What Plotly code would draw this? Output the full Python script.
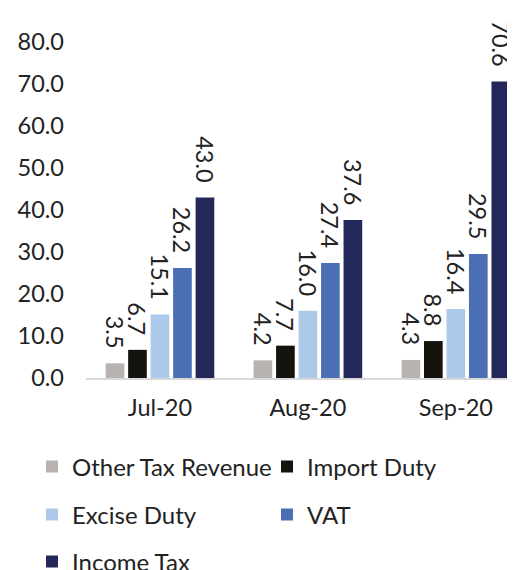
import plotly.graph_objects as go

months = ["Jul-20", "Aug-20", "Sep-20"]
series_names = ["Other Tax Revenue", "Import Duty", "Excise Duty", "VAT", "Income Tax"]
other_tax = [3.5, 4.2, 4.3]
import_duty = [6.7, 7.7, 8.8]
excise_duty = [15.1, 16.0, 16.4]
vat = [26.2, 27.4, 29.5]
income_tax = [43.0, 37.6, 70.6]
y_ticks = [0, 10, 20, 30, 40, 50, 60, 70, 80]

colors = ["#b8b3b1", "#14130e", "#adc9e9", "#4a6fb5", "#23275a"]
legends = ["legend", "legend", "legend2", "legend2", "legend3"]
values = [other_tax, import_duty, excise_duty, vat, income_tax]

FONT = "Lato"
fig = go.Figure()
for name, vals, col, lg in zip(series_names, values, colors, legends):
    fig.add_trace(go.Bar(
        x=months, y=vals, name=name, marker_color=col, marker_line_width=0,
        text=[f"{v:.1f}\u2002" for v in vals], textposition="outside", textangle=90,
        textfont=dict(family=FONT, size=23.5, color="#222222"),
        cliponaxis=False, constraintext="none", legend=lg,
    ))

# page body has an 8px margin, so figure is 8px smaller than the viewport
W, H = 507, 562
ML, MT, MB = 78, 34, 192
PH = H - MT - MB
PW = W - ML

def py(fig_y):
    return ((H - MB) - fig_y) / PH

leg_common = dict(orientation="h", xref="paper", yref="paper",
                  xanchor="left", yanchor="middle", entrywidth=190,
                  font=dict(family=FONT, size=24, color="#222222"),
                  bgcolor="rgba(0,0,0,0)", traceorder="normal")
lx = (24 - ML) / PW

fig.update_layout(
    width=W, height=H,
    margin=dict(l=ML, r=0, t=MT, b=MB, autoexpand=False),
    paper_bgcolor="white", plot_bgcolor="white",
    barmode="group", bargap=0.24, bargroupgap=0.17,
    showlegend=True,
    legend=dict(x=lx, y=py(459), **leg_common),
    legend2=dict(x=lx, y=py(507), **leg_common),
    legend3=dict(x=lx, y=py(554), **leg_common),
    xaxis=dict(range=[-0.5, 2.4], showline=True, linecolor="#d9d9d9", linewidth=2,
               showgrid=False, ticks="", tickfont=dict(family=FONT, size=23.5, color="#222222"),
               ticklabelstandoff=8),
    yaxis=dict(range=[0, 80], tickvals=y_ticks, tickformat=".1f", showgrid=False,
               zeroline=False, showline=False, ticks="",
               tickfont=dict(family=FONT, size=23.5, color="#222222"),
               ticklabelstandoff=21),
)

fig.write_html("out.html")
